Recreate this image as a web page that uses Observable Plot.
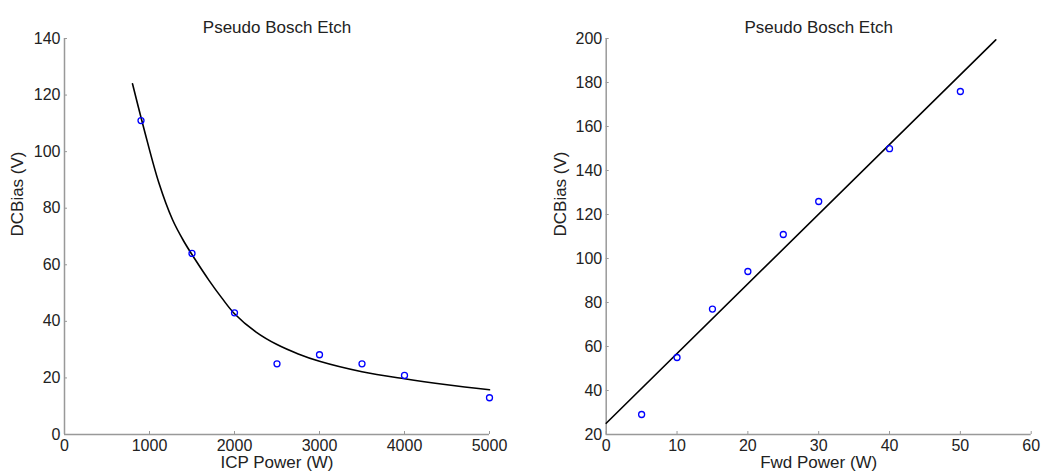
<!DOCTYPE html>
<html>
<head>
<meta charset="utf-8">
<script src="https://cdn.jsdelivr.net/npm/d3@7"></script>
<script src="https://cdn.jsdelivr.net/npm/@observablehq/plot@0.6"></script>
<style>
  html, body { margin: 0; padding: 0; background: #fff; }
  #wrap { position: relative; width: 1042px; height: 474px; }
  #left, #right { position: absolute; top: 0; }
  #left { left: 0; }
  #right { left: 521px; }
</style>
</head>
<body>
<div id="wrap"><div id="left"></div><div id="right"></div></div>
<script>
// ---- Data: left panel (ICP Power vs DCBias) ----
const icpPower = [900, 1500, 2000, 2500, 3000, 3500, 4000, 5000];
const icpBias  = [111, 64, 43, 25, 28.2, 25, 20.9, 13];
// fitted curve
const icpFitX = [800, 940, 1110, 1270, 1400, 1545, 1700, 1850, 2000, 2250, 2500, 2750, 3000, 3500, 4000, 4500, 5000];
const icpFitY = [124, 107.5, 89, 76, 68.5, 61.5, 54.5, 48.3, 42.7, 36.3, 31.8, 28.5, 25.9, 22.2, 19.7, 17.6, 15.8];
const icpXTicks = [0, 1000, 2000, 3000, 4000, 5000];
const icpYTicks = [0, 20, 40, 60, 80, 100, 120, 140];

// ---- Data: right panel (Fwd Power vs DCBias) ----
const fwdPower = [5, 10, 15, 20, 25, 30, 40, 50];
const fwdBias  = [29.1, 55, 77, 94.1, 110.9, 125.9, 149.9, 175.9];
const fwdFitX = [0, 55];
const fwdFitY = [25.1, 199.4];
const fwdXTicks = [0, 10, 20, 30, 40, 50, 60];
const fwdYTicks = [20, 40, 60, 80, 100, 120, 140, 160, 180, 200];

const titleText = "Pseudo Bosch Etch";
const yLabel = "DCBias (V)";

const pts = (xs, ys) => xs.map((x, i) => ({x, y: ys[i]}));

const FONT = {fontFamily: "'Liberation Sans', Arial, Helvetica, sans-serif", fontSize: "16px", background: "#fff", overflow: "visible"};
const AXIS = "#999";
const INK = "#222";
const fmt = d3.format("d");

function panel({marginLeft, marginRight, xDomain, yDomain, xTicks, yTicks, points, fit, xLabel, curve, yLabelDx}) {
  return Plot.plot({
    width: 521,
    height: 474,
    marginTop: 38,
    marginBottom: 40,
    marginLeft,
    marginRight,
    style: FONT,
    x: {domain: xDomain, ticks: xTicks},
    y: {domain: yDomain, ticks: yTicks},
    marks: [
      Plot.axisY({ticks: yTicks, tickFormat: fmt, tickSize: 3, dx: 3, tickPadding: 4, stroke: AXIS, fill: INK, label: null}),
      Plot.axisX({ticks: xTicks, tickFormat: fmt, tickSize: 3, dy: -3, tickPadding: 5, stroke: AXIS, fill: INK, label: null}),
      Plot.ruleX([xDomain[0]], {stroke: AXIS, strokeWidth: 1.5}),
      Plot.ruleY([yDomain[0]], {stroke: AXIS, strokeWidth: 1.5}),
      Plot.line(fit, {x: "x", y: "y", stroke: "#000", strokeWidth: 1.6, curve}),
      Plot.dot(points, {x: "x", y: "y", r: 3, stroke: "#0000ff", strokeWidth: 1.3, fill: "none"}),
      Plot.text([titleText], {text: d => d, frameAnchor: "top", dy: -18, fill: INK, fontSize: 17}),
      Plot.text([xLabel], {text: d => d, frameAnchor: "bottom", dy: 33, fill: INK, fontSize: 17}),
      Plot.text([yLabel], {text: d => d, frameAnchor: "left", dx: yLabelDx, rotate: -90, fill: INK, fontSize: 17})
    ]
  });
}

document.getElementById("left").append(panel({
  marginLeft: 64, marginRight: 32,
  xDomain: [0, 5000], yDomain: [0, 140],
  xTicks: icpXTicks, yTicks: icpYTicks,
  points: pts(icpPower, icpBias),
  fit: pts(icpFitX, icpFitY),
  xLabel: "ICP Power (W)",
  curve: "catmull-rom",
  yLabelDx: -47
}));

document.getElementById("right").append(panel({
  marginLeft: 84.7, marginRight: 11.3,
  xDomain: [0, 60], yDomain: [20, 200],
  xTicks: fwdXTicks, yTicks: fwdYTicks,
  points: pts(fwdPower, fwdBias),
  fit: pts(fwdFitX, fwdFitY),
  xLabel: "Fwd Power (W)",
  curve: "linear",
  yLabelDx: -46
}));
</script>
</body>
</html>
